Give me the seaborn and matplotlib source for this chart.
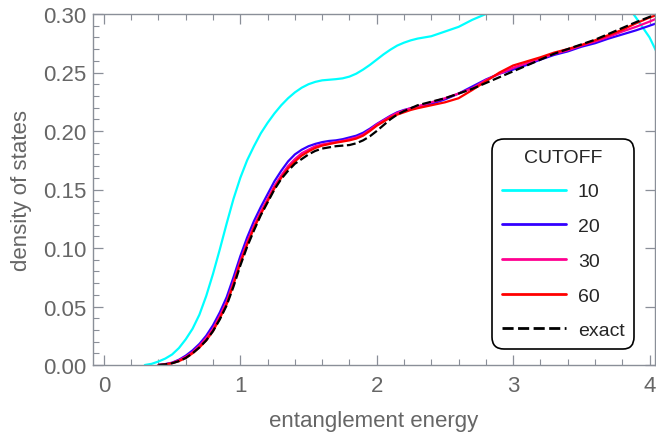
import numpy as np
import pandas as pd
import seaborn as sns
import matplotlib.pyplot as plt
from matplotlib.ticker import MultipleLocator, FormatStrFormatter

nan = np.nan

# energy grid shared by every curve (finer where the curves bend)
energy = [0.3, 0.35, 0.4, 0.45, 0.5, 0.55, 0.6, 0.65, 0.7, 0.75,
          0.8, 0.85, 0.9, 0.95, 1.0, 1.05, 1.1, 1.15, 1.2, 1.25,
          1.3, 1.35, 1.4, 1.45, 1.5, 1.55, 1.6, 1.65, 1.7, 1.75,
          1.8, 1.85, 1.9, 1.95, 2.0, 2.05, 2.1, 2.15, 2.2, 2.25,
          2.3, 2.4, 2.5, 2.6, 2.7, 2.8, 2.9, 3.0, 3.1, 3.2,
          3.3, 3.4, 3.5, 3.6, 3.7, 3.8, 3.9, 4.0, 4.05]

# density of states
dos_10 = [0.0, 0.001, 0.003, 0.0055, 0.009, 0.0145, 0.022, 0.031, 0.043, 0.059,
          0.078, 0.099, 0.121, 0.142, 0.160, 0.175, 0.187, 0.198, 0.207, 0.215,
          0.222, 0.228, 0.233, 0.237, 0.240, 0.242, 0.2433, 0.2438, 0.2443, 0.245,
          0.2465, 0.249, 0.2525, 0.2565, 0.261, 0.2655, 0.2695, 0.273, 0.2755, 0.2775,
          0.279, 0.281, 0.285, 0.289, 0.295, 0.300, 0.306, 0.311, 0.317, 0.322,
          0.326, 0.328, 0.328, 0.326, 0.321, 0.313, 0.297, 0.280, 0.268]
dos_20 = [nan, nan, 0.0, 0.0008, 0.002, 0.0045, 0.008, 0.0125, 0.018, 0.025,
          0.034, 0.045, 0.058, 0.075, 0.093, 0.109, 0.123, 0.135, 0.146, 0.157,
          0.166, 0.174, 0.180, 0.184, 0.187, 0.189, 0.1905, 0.1915, 0.192, 0.193,
          0.1945, 0.196, 0.1985, 0.202, 0.206, 0.2095, 0.213, 0.216, 0.218, 0.2195,
          0.221, 0.223, 0.227, 0.232, 0.238, 0.244, 0.249, 0.2525, 0.2565, 0.261,
          0.265, 0.268, 0.272, 0.275, 0.279, 0.2825, 0.286, 0.290, 0.292]
dos_30 = [nan, nan, 0.0, 0.0006, 0.0018, 0.004, 0.007, 0.011, 0.0165, 0.023,
          0.031, 0.042, 0.054, 0.071, 0.089, 0.105, 0.119, 0.131, 0.142, 0.153,
          0.162, 0.170, 0.176, 0.181, 0.184, 0.187, 0.1885, 0.1895, 0.1905, 0.1915,
          0.193, 0.1945, 0.197, 0.201, 0.2055, 0.209, 0.2125, 0.2155, 0.2175, 0.2195,
          0.221, 0.2245, 0.228, 0.232, 0.2365, 0.2435, 0.249, 0.254, 0.258, 0.262,
          0.266, 0.269, 0.273, 0.2765, 0.2805, 0.285, 0.289, 0.2935, 0.296]
dos_60 = [nan, nan, 0.0, 0.0005, 0.0015, 0.0033, 0.006, 0.010, 0.015, 0.021,
          0.029, 0.040, 0.052, 0.069, 0.087, 0.103, 0.117, 0.129, 0.140, 0.151,
          0.160, 0.168, 0.174, 0.179, 0.1825, 0.1855, 0.1875, 0.1888, 0.190, 0.191,
          0.192, 0.1935, 0.196, 0.200, 0.2045, 0.208, 0.2115, 0.214, 0.216, 0.218,
          0.2195, 0.222, 0.2245, 0.228, 0.235, 0.2425, 0.250, 0.256, 0.2595, 0.263,
          0.267, 0.270, 0.2735, 0.2775, 0.282, 0.2865, 0.292, 0.297, 0.299]
dos_exact = [nan, nan, 0.0, 0.0005, 0.0015, 0.0033, 0.006, 0.010, 0.015, 0.021,
             0.029, 0.039, 0.051, 0.067, 0.085, 0.101, 0.115, 0.128, 0.139, 0.150,
             0.159, 0.166, 0.172, 0.176, 0.180, 0.183, 0.185, 0.186, 0.187, 0.1875,
             0.188, 0.1895, 0.192, 0.1955, 0.200, 0.205, 0.210, 0.214, 0.217, 0.2195,
             0.222, 0.225, 0.228, 0.232, 0.236, 0.241, 0.246, 0.251, 0.256, 0.261,
             0.266, 0.270, 0.274, 0.278, 0.283, 0.288, 0.293, 0.2975, 0.300]

series = ["10", "20", "30", "60", "exact"]
colors = {"10": "#00FFFF", "20": "#3300FF", "30": "#FF0090", "60": "#FF0000", "exact": "black"}
dashes = {"10": "", "20": "", "30": "", "60": "", "exact": (4, 1.6)}

df = pd.concat([
    pd.DataFrame({"energy": energy, "dos": vals, "cutoff": name})
    for name, vals in zip(series, [dos_10, dos_20, dos_30, dos_60, dos_exact])
], ignore_index=True)

sns.set_style("ticks")
plt.rcParams["font.family"] = ["Liberation Sans", "DejaVu Sans"]

fig = plt.figure(figsize=(6.56, 4.39), dpi=100)
ax = fig.add_axes([93 / 656, 1 - 366 / 439, 562 / 656, 351 / 439])

sns.lineplot(data=df, x="energy", y="dos", hue="cutoff", style="cutoff",
             hue_order=series, style_order=series, palette=colors, dashes=dashes,
             linewidth=1.6, ax=ax, legend=True)

ax.set_xlim(-0.08, 4.04)
ax.set_ylim(0, 0.30)
ax.xaxis.set_major_locator(MultipleLocator(1))
ax.xaxis.set_minor_locator(MultipleLocator(0.2))
ax.yaxis.set_major_locator(MultipleLocator(0.05))
ax.yaxis.set_minor_locator(MultipleLocator(0.01))
ax.yaxis.set_major_formatter(FormatStrFormatter("%.2f"))

frame = "#8a8f98"
for s in ax.spines.values():
    s.set_color(frame)
    s.set_linewidth(1.0)
ax.tick_params(which="both", direction="in", top=True, right=True,
               color=frame, labelcolor="#666666", labelsize=16)
ax.tick_params(which="major", length=7, width=0.9)
ax.tick_params(which="minor", length=4, width=0.8)
ax.tick_params(axis="y", which="minor", right=False)
ax.tick_params(axis="x", pad=7)
ax.tick_params(axis="y", pad=5)

ax.set_xlabel("entanglement energy", fontsize=16, color="#666666", labelpad=10)
ax.set_ylabel("density of states", fontsize=16, color="#666666", labelpad=8)

handles, labels = ax.get_legend_handles_labels()
leg = ax.legend(handles, labels, title="CUTOFF", loc="lower right",
                bbox_to_anchor=(0.963, 0.0456), bbox_transform=ax.transAxes,
                fontsize=14, title_fontsize=14, handlelength=3.3, handletextpad=0.6,
                labelspacing=0.88, borderpad=0.5, frameon=True, fancybox=True,
                framealpha=1, borderaxespad=0)
leg.get_frame().set_edgecolor("black")
leg.get_frame().set_linewidth(1.2)
leg.get_frame().set_boxstyle("round", pad=0, rounding_size=0.6)
for line in leg.get_lines():
    line.set_linewidth(2)

fig.savefig("out.png", dpi=100)
